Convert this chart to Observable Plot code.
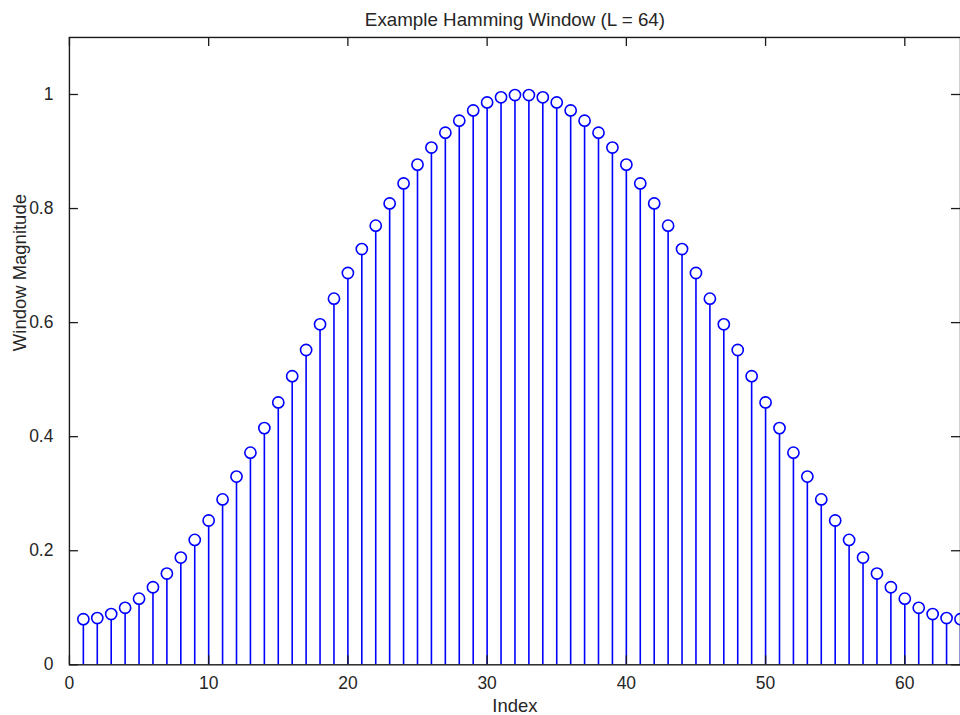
<!DOCTYPE html>
<html>
<head>
<meta charset="utf-8">
<script src="https://cdn.jsdelivr.net/npm/d3@7"></script>
<script src="https://cdn.jsdelivr.net/npm/@observablehq/plot@0.6"></script>
<style>
  html, body { margin: 0; padding: 0; background: #fff; overflow: hidden; }
</style>
</head>
<body>
<div id="chart"></div>
<script>
const title = "Example Hamming Window (L = 64)";
const xLabel = "Index";
const yLabel = "Window Magnitude";

const index = [1,2,3,4,5,6,7,8,9,10,11,12,13,14,15,16,17,18,19,20,21,22,23,24,25,26,27,28,29,30,31,32,
  33,34,35,36,37,38,39,40,41,42,43,44,45,46,47,48,49,50,51,52,53,54,55,56,57,58,59,60,61,62,63,64];
const magnitude = [0.080,0.082,0.089,0.100,0.116,0.136,0.160,0.188,0.219,0.253,0.290,0.330,0.372,0.415,0.460,0.506,
  0.552,0.597,0.642,0.687,0.729,0.770,0.809,0.844,0.877,0.907,0.933,0.954,0.972,0.986,0.995,0.999,
  0.999,0.995,0.986,0.972,0.954,0.933,0.907,0.877,0.844,0.809,0.770,0.729,0.687,0.642,0.597,0.552,
  0.506,0.460,0.415,0.372,0.330,0.290,0.253,0.219,0.188,0.160,0.136,0.116,0.100,0.089,0.082,0.080];

const xTicks = [0,10,20,30,40,50,60];
const yTicks = [0,0.2,0.4,0.6,0.8,1];
const yTickLabels = ["0","0.2","0.4","0.6","0.8","1"];

const data = index.map((i, k) => ({i, v: magnitude[k]}));

const W = 961, H = 715;
const mL = 69, mR = 0, mT = 37, mB = 50;
const plotW = W - mL - mR, plotH = H - mT - mB;
const tickLen = 9;
const dotR = 5.6;
const blue = "#0000ff";
const axisColor = "#1a1a1a";
const textColor = "#262626";
const font = "'Liberation Sans', Arial, Helvetica, sans-serif";

const chart = Plot.plot({
  width: W,
  height: H,
  marginLeft: mL,
  marginRight: mR,
  marginTop: mT,
  marginBottom: mB,
  style: {fontFamily: font, fontSize: "17.5px", color: textColor, background: "#fff", overflow: "visible"},
  x: {domain: [0, 64], label: null},
  y: {domain: [0, 1.1], label: null},
  marks: [
    Plot.axisX({ticks: xTicks, tickSize: 0, tickPadding: 12, label: null, fill: textColor}),
    Plot.axisY({ticks: yTicks, tickSize: 0, tickPadding: 16, label: null, fill: textColor,
      tickFormat: (d) => yTickLabels[yTicks.indexOf(d)]}),
    Plot.ruleX(data, {x: "i", y1: "v", y2: 0, insetTop: dotR, stroke: blue, strokeWidth: 1.6}),
    Plot.dot(data, {x: "i", y: "v", r: dotR, stroke: blue, fill: "none", strokeWidth: 1.6}),
    Plot.ruleX(xTicks, {x: (d) => d, insetTop: plotH - tickLen, stroke: axisColor, strokeWidth: 1.3}),
    Plot.ruleX(xTicks, {x: (d) => d, insetBottom: plotH - tickLen, stroke: axisColor, strokeWidth: 1.3}),
    Plot.ruleY(yTicks, {y: (d) => d, insetRight: plotW - tickLen, stroke: axisColor, strokeWidth: 1.3}),
    Plot.ruleY(yTicks, {y: (d) => d, insetLeft: plotW - tickLen, stroke: axisColor, strokeWidth: 1.3}),
    Plot.frame({stroke: axisColor, strokeWidth: 1.4}),
    Plot.text([title], {frameAnchor: "top", dy: -25, fontSize: 18.8, fill: textColor}),
    Plot.text([xLabel], {frameAnchor: "bottom", dy: 47, fontSize: 18.5, fill: textColor}),
    Plot.text([yLabel], {frameAnchor: "left", dx: -49, rotate: -90, fontSize: 18.5, fill: textColor})
  ]
});

document.getElementById("chart").appendChild(chart);
</script>
</body>
</html>
